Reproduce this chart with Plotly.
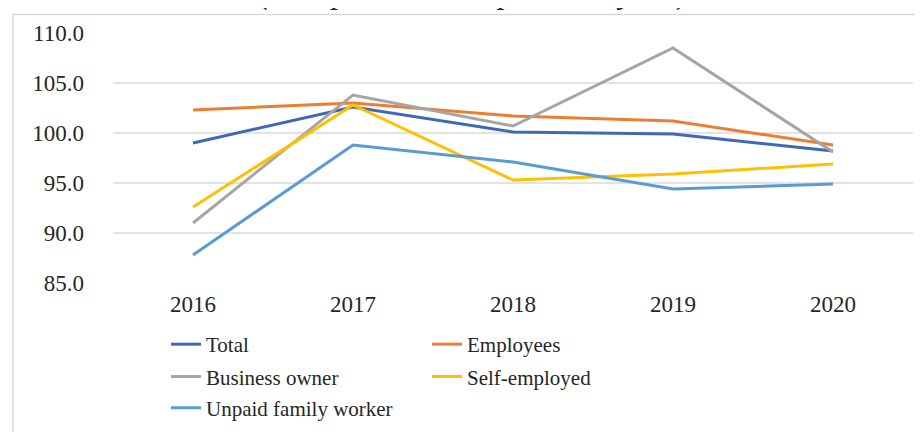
import plotly.graph_objects as go

years = ["2016", "2017", "2018", "2019", "2020"]
total = [99.0, 102.6, 100.1, 99.9, 98.2]
employees = [102.3, 103.0, 101.7, 101.2, 98.8]
business_owner = [91.0, 103.8, 100.7, 108.5, 98.1]
self_employed = [92.6, 102.8, 95.3, 95.9, 96.9]
unpaid_family = [87.8, 98.8, 97.1, 94.4, 94.9]

series_names = ["Total", "Employees", "Business owner", "Self-employed", "Unpaid family worker"]
series_values = [total, employees, business_owner, self_employed, unpaid_family]
colors = ["#4068B8", "#ED7D31", "#A5A5A5", "#FFC000", "#5B9BD5"]
legend_ids = ["legend", "legend", "legend2", "legend2", "legend3"]

W, H = 923, 432
ML, MR, MT, MB = 105, 18, 25, 151
PW, PH = W - ML - MR, H - MT - MB


def px_x(p):
    return (p - ML) / PW


def px_y(p):
    return (H - MB - p) / PH


fig = go.Figure()
for name, vals, col, lg in zip(series_names, series_values, colors, legend_ids):
    fig.add_trace(go.Scatter(
        x=years, y=vals, name=name, mode="lines",
        line=dict(color=col, width=3), legend=lg,
    ))

serif = "Liberation Serif, Times New Roman, serif"
leg_common = dict(
    orientation="h", xanchor="left", yanchor="middle",
    font=dict(family=serif, size=21, color="#262626"),
    bgcolor="rgba(0,0,0,0)", entrywidth=216, itemwidth=30,
    tracegroupgap=0,
)

fig.update_layout(
    width=W, height=H,
    margin=dict(l=ML, r=MR, t=MT, b=MB),
    paper_bgcolor="white", plot_bgcolor="white",
    font=dict(family=serif, color="#262626"),
    xaxis=dict(
        type="category", range=[-0.5, 4.5], showgrid=False, zeroline=False,
        showline=False, tickfont=dict(size=23, family=serif, color="#262626"),
        ticklabelstandoff=5,
    ),
    yaxis=dict(
        range=[85, 110], dtick=5, tickformat=".1f", showgrid=True,
        gridcolor="#E3E3E3", gridwidth=1.5, zeroline=False, showline=False,
        tickfont=dict(size=23, family=serif, color="#262626"),
        ticklabelstandoff=28,
    ),
    legend=dict(x=px_x(158), y=px_y(344), **leg_common),
    legend2=dict(x=px_x(158), y=px_y(377), **leg_common),
    legend3=dict(x=px_x(158), y=px_y(409), **leg_common),
    showlegend=True,
)

fig.add_shape(
    type="rect", xref="paper", yref="paper",
    x0=px_x(5), x1=px_x(915), y0=px_y(445), y1=px_y(6),
    line=dict(color="#D9D9D9", width=1.5), fillcolor="rgba(0,0,0,0)",
    layer="below",
)

fig.add_annotation(
    text="(Compared to the previous year)", xref="paper", yref="paper",
    x=px_x(466), y=px_y(-16), xanchor="center", yanchor="middle",
    showarrow=False, font=dict(family=serif, size=33, color="#262626", style="italic"),
)

fig.write_html("out.html")
